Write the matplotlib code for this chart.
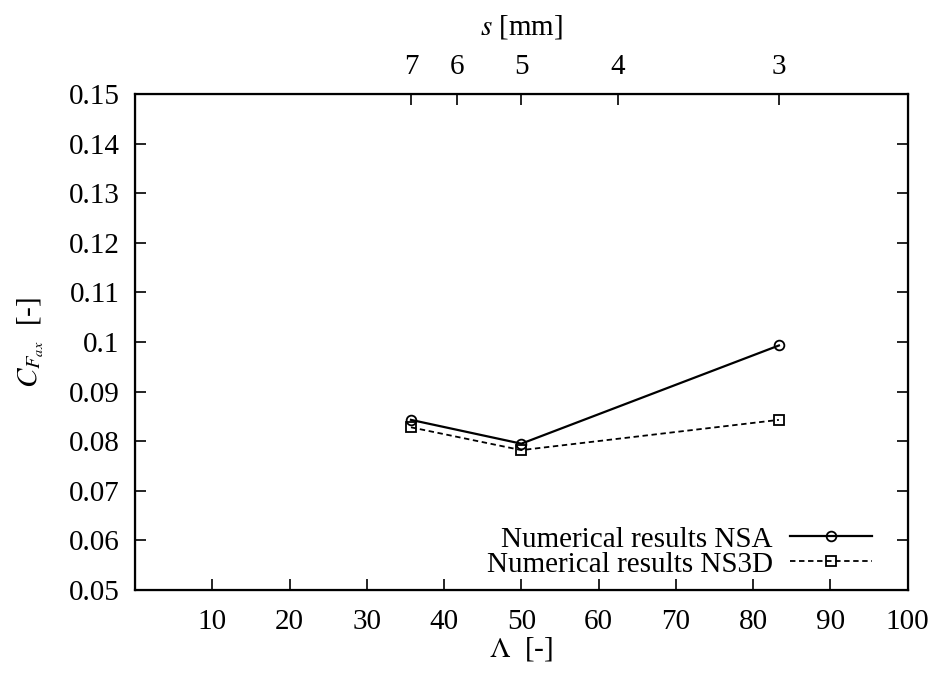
import matplotlib
matplotlib.use("Agg")
import matplotlib.pyplot as plt

plt.rcParams["font.family"] = ["Liberation Serif", "DejaVu Serif"]
plt.rcParams["mathtext.fontset"] = "stix"

# data
lam = [250 / 7, 50.0, 250 / 3]
cf_nsa = [0.0843, 0.0795, 0.0993]
cf_ns3d = [0.0828, 0.0782, 0.0843]
s_ticks = [7, 6, 5, 4, 3]
x_ticks = [10, 20, 30, 40, 50, 60, 70, 80, 90, 100]
y_ticks = [0.05, 0.06, 0.07, 0.08, 0.09, 0.1, 0.11, 0.12, 0.13, 0.14, 0.15]
y_labels = ["0.05", "0.06", "0.07", "0.08", "0.09", "0.1", "0.11", "0.12",
            "0.13", "0.14", "0.15"]

fig = plt.figure(figsize=(9.35, 6.79), dpi=100)
ax = fig.add_axes([135 / 935, 1 - 590 / 679, 772.7 / 935, 496 / 679])

ax.plot(lam, cf_nsa, "k-", marker="o", mfc="none", ms=7, mew=1.3, lw=1.6,
        label="Numerical results NSA")
ax.plot(lam, cf_ns3d, "k--", marker="s", mfc="none", ms=7, mew=1.3, lw=1.3,
        dashes=(3, 2), label="Numerical results NS3D")

ax.set_xlim(0, 100)
ax.set_ylim(0.05, 0.15)
ax.set_xticks(x_ticks)
ax.set_yticks(y_ticks)
ax.set_yticklabels(y_labels)
ax.tick_params(axis="both", direction="in", length=8, width=1.2, labelsize=21)
ax.tick_params(axis="x", pad=14)
ax.tick_params(axis="y", right=True, pad=11)
for sp in ax.spines.values():
    sp.set_linewidth(1.6)

ax.set_xlabel(r"$\mathit{\Lambda}$  [-]", fontsize=21, labelpad=0)
ax.set_ylabel(r"$C_{F_{ax}}$  [-]", fontsize=21, labelpad=16)

# top axis: s [mm], Lambda = 250 / s
top = ax.twiny()
top.set_xlim(ax.get_xlim())
top.set_xticks([250 / s for s in s_ticks])
top.set_xticklabels([str(s) for s in s_ticks])
top.tick_params(direction="in", length=8, width=1.2, labelsize=21, pad=10)
top.set_xlabel(r"$s$ [mm]", fontsize=21, labelpad=14)

ax.legend(loc="lower right", bbox_to_anchor=(0.954, 0.025), frameon=False,
          markerfirst=False, fontsize=21, handlelength=2.8,
          handletextpad=0.6, borderpad=0, borderaxespad=0, labelspacing=-0.05)

fig.savefig("out.png", dpi=100)
